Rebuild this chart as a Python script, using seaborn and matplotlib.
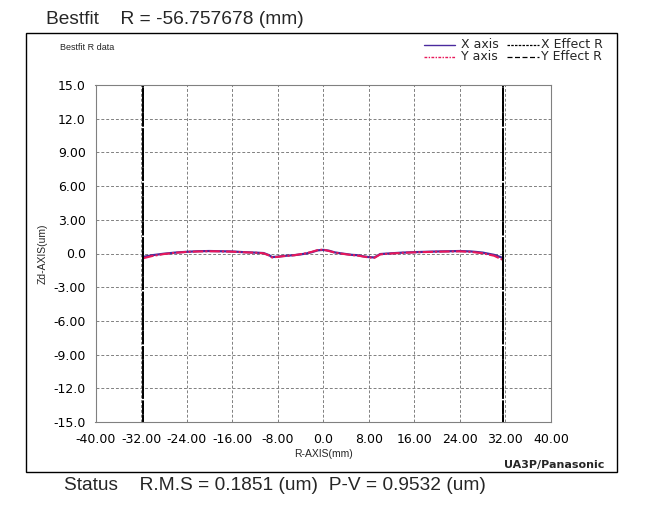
import matplotlib
matplotlib.use("Agg")
import matplotlib.pyplot as plt
import seaborn as sns
import pandas as pd
from matplotlib.lines import Line2D
from matplotlib.patches import Rectangle

# ---------------- data ----------------
r_mm = [-31.6, -30, -28, -26, -24, -22, -20, -18, -16, -14, -12, -10.5, -9.5, -9, -8, -7,
        -6, -5, -4, -3, -2, -1, 0, 1, 2, 3, 4, 5, 6, 7, 8, 9, 10, 12, 14, 16, 18, 20,
        22, 24, 26, 28, 30, 31.6]
x_axis_zd = [-0.30, -0.15, -0.02, 0.08, 0.15, 0.20, 0.22, 0.20, 0.18, 0.12, 0.08, 0.04,
             -0.15, -0.32, -0.28, -0.22, -0.18, -0.14, -0.08, 0.00, 0.12, 0.28, 0.32,
             0.25, 0.10, 0.02, -0.05, -0.12, -0.15, -0.25, -0.32, -0.35, -0.05, 0.02,
             0.08, 0.12, 0.15, 0.18, 0.20, 0.22, 0.18, 0.08, -0.12, -0.40]
y_axis_zd = [-0.42, -0.22, -0.05, 0.06, 0.14, 0.18, 0.20, 0.19, 0.16, 0.11, 0.07, 0.02,
             -0.18, -0.35, -0.30, -0.24, -0.20, -0.15, -0.06, 0.02, 0.15, 0.30, 0.35,
             0.22, 0.08, 0.00, -0.07, -0.14, -0.18, -0.27, -0.35, -0.38, -0.08, 0.00,
             0.06, 0.10, 0.13, 0.16, 0.18, 0.19, 0.14, 0.02, -0.20, -0.58]
effect_r = [-31.6, 31.6]

x_ticks = [-40, -32, -24, -16, -8, 0, 8, 16, 24, 32, 40]
x_tick_labels = ["-40.00", "-32.00", "-24.00", "-16.00", "-8.00", "0.0", "8.00",
                 "16.00", "24.00", "32.00", "40.00"]
y_ticks = [15, 12, 9, 6, 3, 0, -3, -6, -9, -12, -15]
y_tick_labels = ["15.0", "12.0", "9.00", "6.00", "3.00", "0.0", "-3.00", "-6.00",
                 "-9.00", "-12.0", "-15.0"]

title_text = "Bestfit    R = -56.757678 (mm)"
status_text = "Status    R.M.S = 0.1851 (um)  P-V = 0.9532 (um)"

df = pd.DataFrame({"r": r_mm + r_mm,
                   "zd": x_axis_zd + y_axis_zd,
                   "series": ["X axis"] * len(r_mm) + ["Y axis"] * len(r_mm)})

# ---------------- figure ----------------
sns.set_style("white")
plt.rcParams["font.family"] = ["DejaVu Sans"]

W, H = 645, 508
fig = plt.figure(figsize=(W / 100, H / 100), dpi=100)
fig.patch.set_facecolor("white")

def fx(px):
    return px / W

def fy(py):
    return 1 - py / H

ax_l, ax_r, ax_t, ax_b = 95.5, 551, 85, 422
ax = fig.add_axes([fx(ax_l), fy(ax_b), fx(ax_r) - fx(ax_l), fy(ax_t) - fy(ax_b)])

c_x = "#4a2a9e"
c_y = "#e8185a"

sns.lineplot(data=df[df.series == "X axis"], x="r", y="zd", ax=ax, color=c_x,
             linewidth=1.6, estimator=None, sort=False)
sns.lineplot(data=df[df.series == "Y axis"], x="r", y="zd", ax=ax, color=c_y,
             linewidth=1.5, linestyle=(0, (5, 1, 1, 1)), estimator=None, sort=False)

for er in effect_r:
    ax.axvline(er, color="black", linewidth=1.4, linestyle=(0, (3, 1)))
    ax.axvline(er, color="black", linewidth=1.4, linestyle=(2, (6, 1)))

ax.set_xlim(-40, 40)
ax.set_ylim(-15, 15)
ax.set_xticks(x_ticks)
ax.set_xticklabels(x_tick_labels)
ax.set_yticks(y_ticks)
ax.set_yticklabels(y_tick_labels)
ax.tick_params(axis="both", length=0, labelsize=9, colors="black")
ax.tick_params(axis="x", pad=8)
ax.tick_params(axis="y", pad=7)
ax.grid(True, color="#808080", linestyle=(0, (3, 2)), linewidth=0.7)
for s in ax.spines.values():
    s.set_color("#808080")
    s.set_linewidth(0.8)
ax.set_xlabel("R-AXIS(mm)", fontsize=7.5, family="Liberation Sans", labelpad=2)
ax.set_ylabel("Zd-AXIS(um)", fontsize=7.5, family="Liberation Sans", labelpad=4)

# outer frame
fig.add_artist(Rectangle((fx(26), fy(472)), fx(617) - fx(26), fy(33) - fy(472),
                         transform=fig.transFigure, fill=False, edgecolor="black",
                         linewidth=1.0))

fig.text(fx(46), fy(20), title_text, fontsize=13.8, family="Liberation Sans",
         va="center", ha="left")
fig.text(fx(60), fy(47), "Bestfit R data", fontsize=6.5, family="Liberation Sans",
         va="center", ha="left")
fig.text(fx(64), fy(485), status_text, fontsize=13.8, family="Liberation Sans",
         va="center", ha="left")
fig.text(fx(604), fy(465), "UA3P/Panasonic", fontsize=8, fontweight="bold",
         va="center", ha="right")

# legend (custom, as in reference)
rows = [(45, "X axis", c_x, "-", "X Effect R", (0, (2, 1))),
        (57, "Y axis", c_y, (0, (2, 1, 1, 1)), "Y Effect R", (0, (4, 2)))]
for yy, lab1, col, ls1, lab2, ls2 in rows:
    fig.add_artist(Line2D([fx(424), fx(455)], [fy(yy), fy(yy)], color=col,
                          linestyle=ls1, linewidth=1.0, transform=fig.transFigure))
    fig.text(fx(461), fy(yy), lab1, fontsize=9, va="center", ha="left")
    fig.add_artist(Line2D([fx(507), fx(539)], [fy(yy), fy(yy)], color="black",
                          linestyle=ls2, linewidth=0.9, transform=fig.transFigure))
    fig.text(fx(541), fy(yy), lab2, fontsize=9, va="center", ha="left")

fig.savefig("out.png", dpi=100, facecolor="white")
